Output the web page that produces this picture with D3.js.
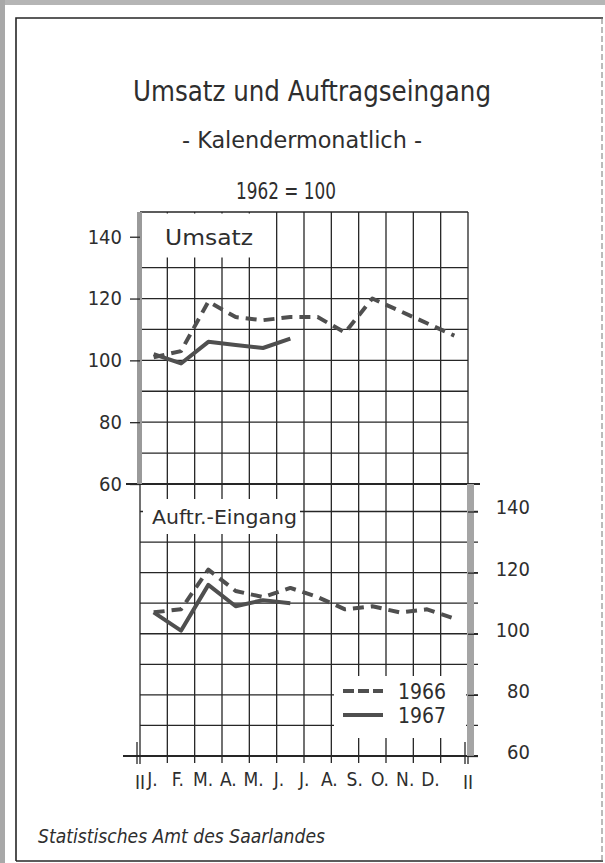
<!DOCTYPE html>
<html>
<head>
<meta charset="utf-8">
<script src="https://cdn.jsdelivr.net/npm/d3@7"></script>
<style>
    body { margin: 0; background: #fff; }
    svg text { font-family: "DejaVu Sans Condensed", "DejaVu Sans", sans-serif; font-stretch: condensed; fill: #2e2e2e; }
</style>
</head>
<body>
<svg id="chart" width="605" height="863"></svg>
<script>
const months = ['J.', 'F.', 'M.', 'A.', 'M.', 'J.', 'J.', 'A.', 'S.', 'O.', 'N.', 'D.']

// Umsatz, 1962 = 100
const umsatz1966 = [101, 103, 119, 114, 113, 114, 114, 109, 120, 116, 112, 108]
const umsatz1967 = [102, 99, 106, 105, 104, 107]

// Auftragseingang, 1962 = 100
const auftrag1966 = [107, 108, 121, 114, 112, 115, 112, 108, 109, 107, 108, 105]
const auftrag1967 = [107, 101, 116, 109, 111, 110]

const axisTicks = [140, 120, 100, 80, 60]
const legendYears = ['1966', '1967']

const svg = d3.select('#chart')

const x = d3.scaleBand().domain(d3.range(12)).range([140, 468])
const xLabel = d3.scalePoint().domain(d3.range(12)).range([152, 430])
const yTop = d3.scaleLinear().domain([60, 148]).range([484, 212])
const yBottom = d3.scaleLinear().domain([60, 149]).range([756, 484])

const left = x.range()[0]
const right = x.range()[1]
const ink = '#262626'

// frame
svg.append('rect').attr('x', 0).attr('y', 0).attr('width', 605).attr('height', 5).attr('fill', '#b5b5b5')
svg.append('rect').attr('x', 0).attr('y', 0).attr('width', 5).attr('height', 863).attr('fill', '#a8a8a8')
svg.append('path')
    .attr('d', 'M16,861 V18 H603')
    .attr('fill', 'none').attr('stroke', ink).attr('stroke-width', 1.6)
svg.append('line')
    .attr('x1', 16).attr('x2', 603).attr('y1', 861).attr('y2', 861)
    .attr('stroke', ink).attr('stroke-width', 1.6)
svg.append('line')
    .attr('x1', 602).attr('x2', 602).attr('y1', 18).attr('y2', 861)
    .attr('stroke', '#777').attr('stroke-width', 1).attr('stroke-dasharray', '6,3')

// titles
svg.append('text').text('Umsatz und Auftragseingang')
    .attr('x', 312).attr('y', 101).attr('text-anchor', 'middle')
    .attr('font-size', 28).attr('textLength', 358).attr('lengthAdjust', 'spacingAndGlyphs')
svg.append('text').text('- Kalendermonatlich -')
    .attr('x', 302).attr('y', 148).attr('text-anchor', 'middle')
    .attr('font-size', 23).attr('textLength', 240).attr('lengthAdjust', 'spacingAndGlyphs')
svg.append('text').text('1962 = 100')
    .attr('x', 286).attr('y', 199).attr('text-anchor', 'middle')
    .attr('font-size', 23).attr('textLength', 100).attr('lengthAdjust', 'spacingAndGlyphs')

// grid
const grid = svg.append('g').attr('stroke', ink).attr('stroke-width', 1.3)

grid.selectAll('.vline')
    .data(d3.range(1, 12))
    .enter()
    .append('line')
    .attr('x1', d => x(d)).attr('x2', d => x(d))
    .attr('y1', yTop(148)).attr('y2', yBottom(60) + 7)

grid.selectAll('.hTop')
    .data(d3.range(70, 140, 10).concat([148]))
    .enter()
    .append('line')
    .attr('x1', left).attr('x2', right)
    .attr('y1', d => yTop(d)).attr('y2', d => yTop(d))

grid.selectAll('.hBottom')
    .data(d3.range(70, 150, 10))
    .enter()
    .append('line')
    .attr('x1', left).attr('x2', right + 10)
    .attr('y1', d => yBottom(d)).attr('y2', d => yBottom(d))

// dividing line and base line
grid.append('line')
    .attr('x1', left - 14).attr('x2', right + 12)
    .attr('y1', yTop(60)).attr('y2', yTop(60))
    .attr('stroke-width', 2)
grid.append('line')
    .attr('x1', left - 17).attr('x2', right + 10)
    .attr('y1', yBottom(60)).attr('y2', yBottom(60))
    .attr('stroke-width', 2)

// side axes with grey bars
svg.append('rect')
    .attr('x', left - 3).attr('y', yTop(148))
    .attr('width', 5).attr('height', yTop(60) - yTop(148))
    .attr('fill', '#9a9a9a')
svg.append('rect')
    .attr('x', right - 1).attr('y', yBottom(149))
    .attr('width', 7).attr('height', yBottom(60) - yBottom(149))
    .attr('fill', '#a5a5a5')
grid.append('line')
    .attr('x1', left).attr('x2', left)
    .attr('y1', yTop(148)).attr('y2', yBottom(60) + 8)
grid.append('line')
    .attr('x1', right).attr('x2', right)
    .attr('y1', yTop(148)).attr('y2', yBottom(60) + 8)
grid.append('line')
    .attr('x1', left - 3).attr('x2', left - 3)
    .attr('y1', yBottom(60) - 14).attr('y2', yBottom(60) + 8)
grid.append('line')
    .attr('x1', right - 3).attr('x2', right - 3)
    .attr('y1', yBottom(60) - 14).attr('y2', yBottom(60) + 8)

// tick axes
const axisTop = svg.append('g')
    .attr('transform', `translate(${left},0)`)
    .call(d3.axisLeft(yTop).tickValues(axisTicks).tickSizeInner(10).tickSizeOuter(0).tickPadding(8))
const axisBottomRight = svg.append('g')
    .attr('transform', `translate(${right},0)`)
    .call(d3.axisRight(yBottom).tickValues(axisTicks).tickSizeInner(10).tickSizeOuter(0).tickPadding(8))

axisTop.select('.domain').remove()
axisBottomRight.select('.domain').remove()
svg.selectAll('.tick line').attr('stroke', ink).attr('stroke-width', 1.3)
svg.selectAll('.tick text').attr('font-size', 20).attr('font-family', null).attr('fill', null)
axisBottomRight.selectAll('.tick text')
    .attr('text-anchor', 'end').attr('x', 62).attr('dy', '0.12em')

const monthAxis = svg.append('g')
    .attr('transform', `translate(0,${yBottom(60) + 12})`)
    .call(d3.axisBottom(xLabel).tickSize(0).tickPadding(4).tickFormat(i => months[i]))
monthAxis.select('.domain').remove()
monthAxis.selectAll('text').attr('font-size', 19).attr('font-family', null).attr('fill', null)

svg.selectAll('.endMark')
    .data([left, right])
    .enter()
    .append('text')
    .text('II')
    .attr('x', d => d)
    .attr('y', yBottom(60) + 33)
    .attr('text-anchor', 'middle')
    .attr('font-size', 19)

// label boxes
svg.append('rect').attr('x', left + 3).attr('y', yTop(148) + 1.5)
    .attr('width', 133).attr('height', 44).attr('fill', '#fff')
svg.append('rect').attr('x', left + 3).attr('y', 499)
    .attr('width', 157).attr('height', 35).attr('fill', '#fff')
svg.append('rect').attr('x', 334).attr('y', 676)
    .attr('width', 132).attr('height', 62).attr('fill', '#fff')

svg.append('text').text('Umsatz')
    .attr('x', 165).attr('y', 245)
    .attr('font-size', 21).attr('textLength', 88).attr('lengthAdjust', 'spacingAndGlyphs')
svg.append('text').text('Auftr.-Eingang')
    .attr('x', 152).attr('y', 524)
    .attr('font-size', 20).attr('textLength', 145).attr('lengthAdjust', 'spacingAndGlyphs')

// data lines
const cx = i => x(i) + x.bandwidth() / 2

const lineTop = d3.line().x((d, i) => cx(i)).y(d => yTop(d))
const lineBottom = d3.line().x((d, i) => cx(i)).y(d => yBottom(d))

const series = [
    { values: umsatz1966, line: lineTop, dash: '11,7' },
    { values: umsatz1967, line: lineTop, dash: null },
    { values: auftrag1966, line: lineBottom, dash: '11,7' },
    { values: auftrag1967, line: lineBottom, dash: null }
]

svg.selectAll('.series')
    .data(series)
    .enter()
    .append('path')
    .attr('d', d => d.line(d.values))
    .attr('fill', 'none')
    .attr('stroke', '#4f4f4f')
    .attr('stroke-width', 4)
    .attr('stroke-linejoin', 'round')
    .attr('stroke-dasharray', d => d.dash)

// legend
const legend = svg.append('g')
legend.selectAll('line')
    .data(legendYears)
    .enter()
    .append('line')
    .attr('x1', 343).attr('x2', 383)
    .attr('y1', (d, i) => 691 + i * 24).attr('y2', (d, i) => 691 + i * 24)
    .attr('stroke', '#4f4f4f')
    .attr('stroke-width', 4)
    .attr('stroke-dasharray', (d, i) => i == 0 ? '11,4' : null)
legend.selectAll('text')
    .data(legendYears)
    .enter()
    .append('text')
    .text(d => d)
    .attr('x', 398)
    .attr('y', (d, i) => 699 + i * 24)
    .attr('font-size', 21)

// source
svg.append('text').text('Statistisches Amt des Saarlandes')
    .attr('x', 38).attr('y', 843)
    .attr('font-size', 20).attr('font-style', 'italic')
    .attr('textLength', 287).attr('lengthAdjust', 'spacingAndGlyphs')
</script>
</body>
</html>
